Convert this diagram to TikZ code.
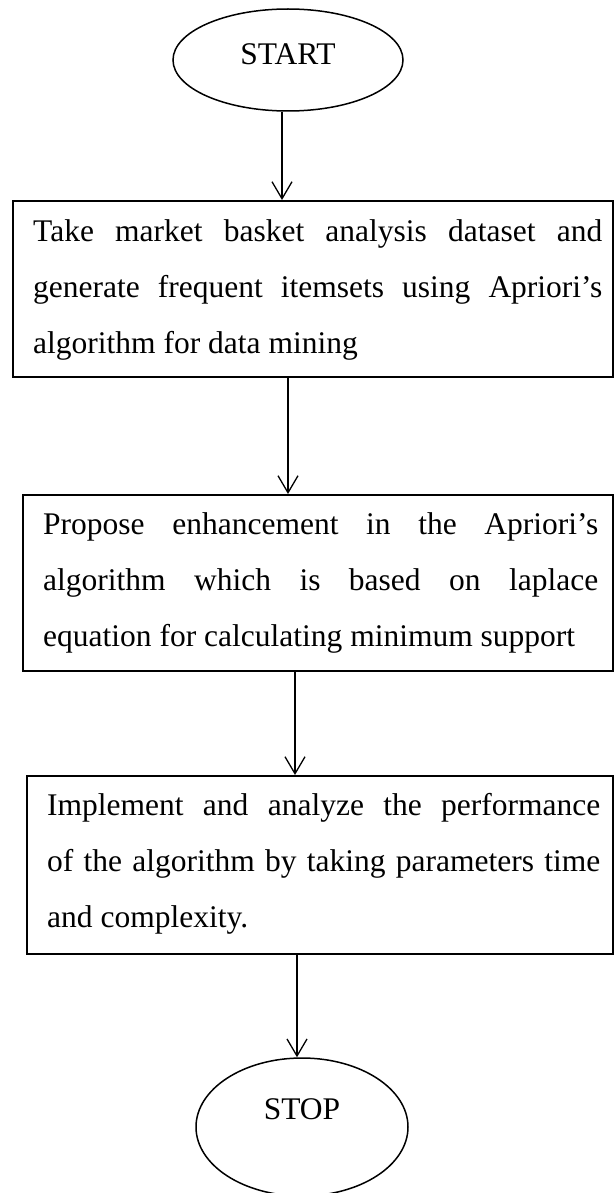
\documentclass[tikz,border=0pt]{standalone}
\usepackage{fontspec}
\setmainfont{Liberation Serif}
\usetikzlibrary{shapes.geometric,arrows.meta}
\tikzset{
  box/.style={draw, line width=1.5pt, rectangle, inner sep=0pt, anchor=north west},
  oval/.style={draw, line width=1.5pt, ellipse, inner sep=0pt},
  txt/.style={inner sep=0pt, anchor=base west, align=justify, font=\fontsize{31.5}{56}\selectfont},
  lbl/.style={inner sep=0pt, anchor=base, font=\fontsize{31.5}{56}\selectfont},
  arr/.style={line width=1.3pt, -{Straight Barb[length=17pt,width=20pt,line width=1.3pt]}}
}
\begin{document}
\begin{tikzpicture}[x=1pt,y=-1pt]
\useasboundingbox (0,0) rectangle (613,1193);
% start
\node[oval, minimum width=230pt, minimum height=102pt] (s) at (288,60) {};
\node[lbl] (st) at (288,65) {START};
% boxes
\node[box, minimum width=600pt, minimum height=176pt] (b1) at (12,200) {};
\node[txt, text width=569pt] (t1) at (33,241) {Take market basket analysis dataset and\linebreak generate frequent itemsets using Apriori’s\linebreak algorithm for data mining};
\node[box, minimum width=590pt, minimum height=176pt] (b2) at (22,494) {};
\node[txt, text width=555pt] (t2) at (43,534) {Propose enhancement in the Apriori’s\linebreak algorithm which is based on laplace\linebreak equation for calculating minimum support};
\node[box, minimum width=586pt, minimum height=178pt] (b3) at (26,775) {};
\node[txt, text width=553pt] (t3) at (47,815) {Implement and analyze the performance\linebreak of the algorithm by taking parameters time\linebreak and complexity.};
% stop
\node[oval, minimum width=212pt, minimum height=138pt] (e) at (302,1127) {};
\node[lbl] (sp) at (302,1119) {STOP};
% connectors
\coordinate (k1) at (282,0);
\coordinate (k2) at (288,0);
\coordinate (k3) at (295,0);
\coordinate (k4) at (297,0);
\draw[arr] (s.south -| k1) -- (b1.north -| k1);
\draw[arr] (b1.south -| k2) -- (b2.north -| k2);
\draw[arr] (b2.south -| k3) -- (b3.north -| k3);
\draw[arr] (b3.south -| k4) -- (e.north -| k4);
\end{tikzpicture}
\end{document}
